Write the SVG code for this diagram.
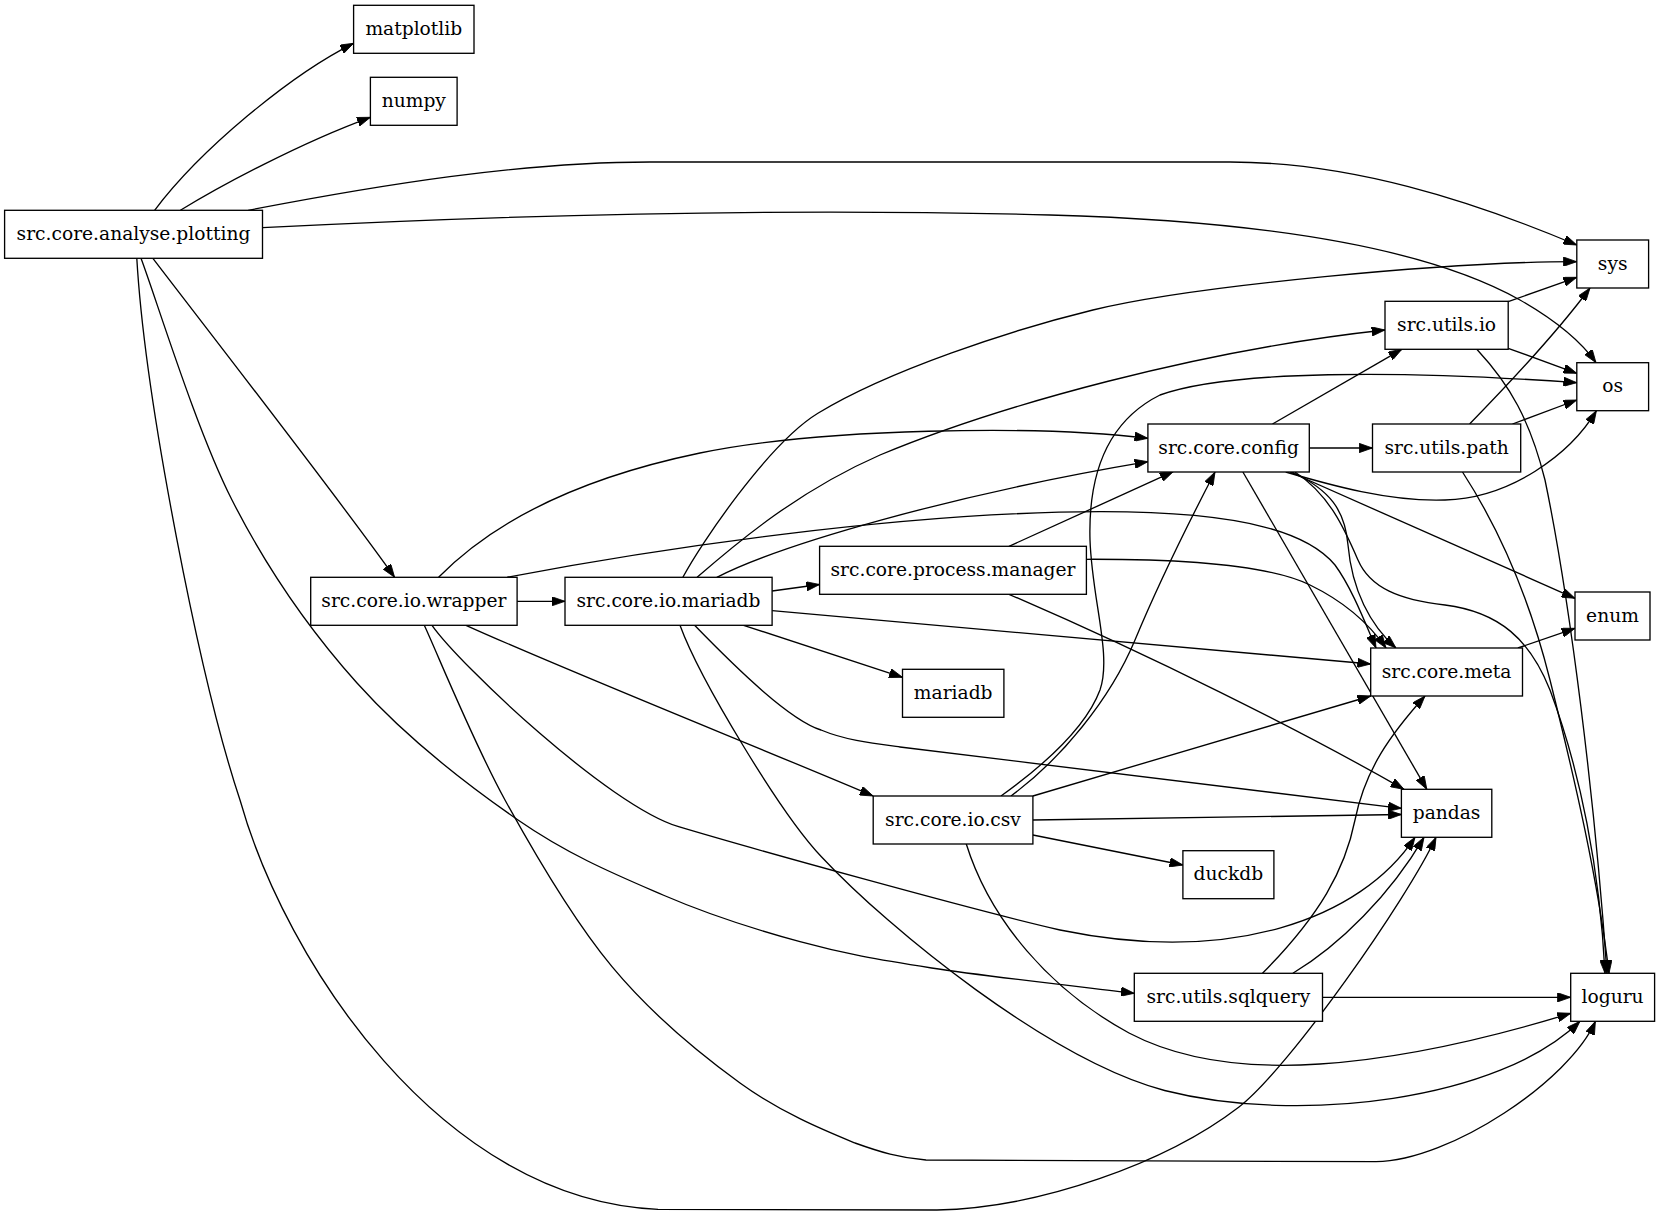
<svg xmlns="http://www.w3.org/2000/svg" width="1660" height="1216" viewBox="0 0 1660 1216">
<style>
.n rect{fill:#fff;stroke:#000;stroke-width:1.33}
.n text{font-family:"DejaVu Serif","Liberation Serif",serif;font-size:18.67px;text-anchor:middle;fill:#000}
.e path{fill:none;stroke:#000;stroke-width:1.33;marker-end:url(#ah)}
</style>
<defs>
<marker id="ah" viewBox="0 0 10 7" refX="10" refY="3.5" markerUnits="userSpaceOnUse" markerWidth="13.3" markerHeight="9.3" orient="auto"><path d="M0,0 L10,3.5 L0,7 z" fill="#000" stroke="#000" stroke-width="0.6"/></marker>
</defs>
<rect width="1660" height="1216" fill="#fff"/>
<g id="edges" class="e">
<path d="M154.6,210.3 C200,150 290,75 353.6,43.3"/>
<path d="M180.4,210.3 C220,186 300,143 370.4,117.3"/>
<path d="M248.2,210.3 C380,185 520,162 650,162 L1230,162 C1350,162 1470,200 1576.8,245"/>
<path d="M262.5,227.7 C550,213 800,208 1050,215 C1300,222 1440,255 1520,300 C1555,320 1580,340 1596,362.7"/>
<path d="M152.9,258.3 C200,320 340,500 394.6,577.3"/>
<path d="M141,258.3 C156.2,298.6 196,429.2 232,500 C268,570.8 309.3,629.7 357,683 C404.7,736.3 467,784.7 518,820 C569,855.3 616,874.7 663,895 C710,915.3 755.2,929.5 800,941.7 C844.8,953.9 875.8,959.4 931.6,968 C987.4,976.6 1100.8,989.1 1134.3,993.3"/>
<path d="M136.8,258.3 C145,400 200,680 240,800 C285,960 440,1200 658,1209.3 L937,1210 C1040,1208 1166.4,1162.8 1239,1107 C1289,1068.5 1408,898 1436,837.3"/>
<path d="M517.1,601.3 L565,601.3"/>
<path d="M438.6,577.3 C490,525 570,480 700,453 C820,428 1040,425 1147.9,438.3"/>
<path d="M507,577.3 C650,550 900,512 1100,511.7 C1250,511.5 1310,535 1335,565 C1352,588 1366,625 1376,648"/>
<path d="M466,625.3 C560,668 770,752 873.2,796"/>
<path d="M432,625.3 C460,665 608.6,805.7 678.6,826.7 C748.6,847.7 980,912 1060,930 C1230,965 1360,920 1415,837.3"/>
<path d="M424.3,625.3 C437.8,654.5 473.7,743.1 505,800 C536.3,856.9 572.8,919.5 612,966.7 C651.2,1013.9 699.5,1053.6 740,1083 C780.5,1112.4 824,1130.2 855,1143 C880,1152 900,1158 926,1160 L1376,1161.7 C1450,1161 1570,1080 1595.4,1021.3"/>
<path d="M682.9,577.3 C700,545 767.9,443.9 817.9,413.3 C887.9,370.4 1012.9,329.5 1092.9,310 C1192.9,285.7 1450,261.5 1576.8,261.7"/>
<path d="M697.1,577.3 C740,540 800,490 880,455 C1000,405 1200,350 1385,330"/>
<path d="M716.8,577.3 C780,545 950,495 1147.9,461.7"/>
<path d="M772.1,591 L819.6,584.5"/>
<path d="M772.1,610.7 L1370.7,664"/>
<path d="M743.6,625.3 L902.5,677.3"/>
<path d="M694.6,625.3 C740,672 790,720 821,730 C845,740 870,743 900,747 L1401.4,808.3"/>
<path d="M680,625.3 C700,680 781.4,814.7 821.4,856.7 C890,930 1050,1060 1164.6,1090.5 C1300,1125 1500,1100 1580,1021.3"/>
<path d="M1009,546.3 L1173.2,471.7"/>
<path d="M1086.4,559.3 C1180,559 1270,565 1310,585 C1345,602 1370,625 1386,648"/>
<path d="M1009,594.3 C1150,655 1300,730 1404,789.3"/>
<path d="M1272.5,424 L1401.8,349.3"/>
<path d="M1309.3,448 L1372.5,448"/>
<path d="M1285.7,472 C1330,485 1390,502 1445,500 C1510,498 1570,455 1596.4,410.7"/>
<path d="M1290,472 L1575,598.3"/>
<path d="M1292,472 C1330,490 1345,510 1348,545 C1352,590 1370,625 1396,648"/>
<path d="M1295,472 C1330,495 1345,530 1358,560 C1370,588 1400,600 1445,605 C1500,612 1530,640 1550,690 C1580,770 1600,870 1605,973.3"/>
<path d="M1242.9,472 L1426.8,789.3"/>
<path d="M1001,796 C1040,768 1085,730 1100,690 C1112,655 1092,600 1090,540 C1088,470 1110,420 1160,395 C1230,370 1400,370 1576.8,382.7"/>
<path d="M1011,796 C1060,760 1110,700 1135,640 C1160,580 1190,520 1215,472"/>
<path d="M1032.9,796 L1370.7,696"/>
<path d="M1032.9,820 L1401.4,814.5"/>
<path d="M1032.9,835 L1182.9,865"/>
<path d="M966.2,843.7 C990,920 1050,990 1129,1033 C1190,1065 1260,1068 1320,1064 C1410,1058 1500,1035 1570.7,1013.3"/>
<path d="M1262.5,973.3 C1320,915 1345,870 1355,820 C1365,770 1390,735 1425,696"/>
<path d="M1292.9,973.3 C1340,945 1390,895 1424,837.3"/>
<path d="M1322.5,997.3 L1570.7,997.3"/>
<path d="M1508.2,301.7 L1576.8,277.3"/>
<path d="M1508.2,348.3 L1576.8,373.3"/>
<path d="M1476.8,349.3 C1510,385 1530,420 1545,480 C1570,600 1595,800 1607,973.3"/>
<path d="M1469.6,424 C1495,398 1555,335 1590,288"/>
<path d="M1512.5,424 L1576.8,400"/>
<path d="M1462.5,472 C1500,530 1530,600 1550,680 C1575,780 1598,880 1609,973.3"/>
<path d="M1517.9,648 L1575,628.3"/>
</g>
<g id="n-matplotlib" class="n"><rect x="353.6" y="5.3" width="120.4" height="48"/><text x="413.8" y="34.8">matplotlib</text></g>
<g id="n-numpy" class="n"><rect x="370.4" y="77.3" width="86.7" height="48"/><text x="413.8" y="106.8">numpy</text></g>
<g id="n-plotting" class="n"><rect x="4.6" y="210.3" width="257.9" height="48"/><text x="133.5" y="239.8">src.core.analyse.plotting</text></g>
<g id="n-wrapper" class="n"><rect x="310.7" y="577.3" width="206.4" height="48"/><text x="413.9" y="606.8">src.core.io.wrapper</text></g>
<g id="n-io-mariadb" class="n"><rect x="565" y="577.3" width="207.1" height="48"/><text x="668.5" y="606.8">src.core.io.mariadb</text></g>
<g id="n-manager" class="n"><rect x="819.6" y="546.3" width="266.8" height="48"/><text x="953" y="575.8">src.core.process.manager</text></g>
<g id="n-mariadb" class="n"><rect x="902.5" y="669.3" width="101.4" height="48"/><text x="953.2" y="698.8">mariadb</text></g>
<g id="n-csv" class="n"><rect x="873.2" y="796" width="159.7" height="48"/><text x="953" y="825.5">src.core.io.csv</text></g>
<g id="n-config" class="n"><rect x="1147.9" y="424" width="161.4" height="48"/><text x="1228.6" y="453.5">src.core.config</text></g>
<g id="n-duckdb" class="n"><rect x="1182.9" y="850.7" width="91" height="48"/><text x="1228.4" y="880.2">duckdb</text></g>
<g id="n-sqlquery" class="n"><rect x="1134.3" y="973.3" width="188.2" height="48"/><text x="1228.4" y="1002.8">src.utils.sqlquery</text></g>
<g id="n-utils-io" class="n"><rect x="1385" y="301.3" width="123.2" height="48"/><text x="1446.6" y="330.8">src.utils.io</text></g>
<g id="n-utils-path" class="n"><rect x="1372.5" y="424" width="148.2" height="48"/><text x="1446.6" y="453.5">src.utils.path</text></g>
<g id="n-meta" class="n"><rect x="1370.7" y="648" width="151.8" height="48"/><text x="1446.6" y="677.5">src.core.meta</text></g>
<g id="n-pandas" class="n"><rect x="1401.4" y="789.3" width="90.4" height="48"/><text x="1446.6" y="818.8">pandas</text></g>
<g id="n-sys" class="n"><rect x="1576.8" y="240" width="71.8" height="48"/><text x="1612.7" y="269.5">sys</text></g>
<g id="n-os" class="n"><rect x="1576.8" y="362.7" width="71.8" height="48"/><text x="1612.7" y="392.2">os</text></g>
<g id="n-enum" class="n"><rect x="1575" y="592" width="75" height="48"/><text x="1612.5" y="621.5">enum</text></g>
<g id="n-loguru" class="n"><rect x="1570.7" y="973.3" width="83.9" height="48"/><text x="1612.6" y="1002.8">loguru</text></g>
</svg>
